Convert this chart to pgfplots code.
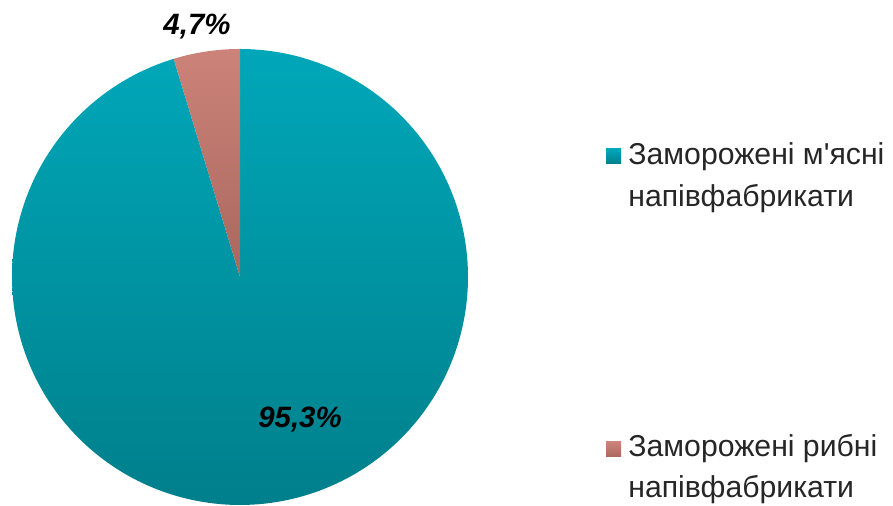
\documentclass[border=0pt]{standalone}
\usepackage{fontspec}
\setmainfont{Liberation Sans}
\usepackage{pgfplots}
\usepackage{pgfplotstable}
\pgfplotsset{compat=1.18}

\definecolor{meattop}{HTML}{00A7B9}
\definecolor{meatbot}{HTML}{007F8B}
\definecolor{fishtop}{HTML}{CC8379}
\definecolor{fishbot}{HTML}{A9675E}

% shares, per cent
\pgfplotstableread{
name value
meat 95.3
fish 4.7
}\piedata

\begin{document}
\begin{tikzpicture}
\pgfplotstablegetelem{0}{value}\of\piedata \let\vmeat\pgfplotsretval
\pgfplotstablegetelem{1}{value}\of\piedata \let\vfish\pgfplotsretval
% pie centre and radius in pixel units of the axis
\def\cx{240}\def\cy{229}\def\rr{228}
\pgfmathsetmacro\aA{90}
\pgfmathsetmacro\aB{90-3.6*\vmeat}
\pgfmathsetmacro\aC{\aB-3.6*\vfish}
\begin{axis}[
    hide axis,
    scale only axis,
    width=446.5pt, height=253pt,
    xmin=0, xmax=893, ymin=0, ymax=506,
    clip=false,
]
\path (axis cs:0,0) rectangle (axis cs:893,506);
\addplot[draw=none, top color=meattop, bottom color=meatbot, domain=\aB:\aA, samples=240]
    ({\cx+\rr*cos(x)},{\cy+\rr*sin(x)}) -- (axis cs:\cx,\cy) -- cycle;
\addplot[draw=none, top color=fishtop, bottom color=fishbot, domain=\aC:\aB, samples=30]
    ({\cx+\rr*cos(x)},{\cy+\rr*sin(x)}) -- (axis cs:\cx,\cy) -- cycle;

\node[anchor=base, font=\fontsize{14.7}{17}\selectfont\bfseries\itshape] at (axis cs:197,471) {4,7\%};
\node[anchor=base, font=\fontsize{14.7}{17}\selectfont\bfseries\itshape] at (axis cs:300,78) {95,3\%};

% legend
\fill[top color=meattop, bottom color=meatbot] (axis cs:606,342) rectangle (axis cs:621,357);
\node[anchor=base west, inner sep=0pt, font=\fontsize{15.1}{17}\selectfont, text=black!85] at (axis cs:628,341) {Заморожені м\textquotesingle ясні};
\node[anchor=base west, inner sep=0pt, font=\fontsize{15.1}{17}\selectfont, text=black!85] at (axis cs:628,299) {напівфабрикати};
\fill[top color=fishtop, bottom color=fishbot] (axis cs:606,49) rectangle (axis cs:621,64);
\node[anchor=base west, inner sep=0pt, font=\fontsize{15.1}{17}\selectfont, text=black!85] at (axis cs:628,49.3) {Заморожені рибні};
\node[anchor=base west, inner sep=0pt, font=\fontsize{15.1}{17}\selectfont, text=black!85] at (axis cs:628,8) {напівфабрикати};
\end{axis}
\end{tikzpicture}
\end{document}
